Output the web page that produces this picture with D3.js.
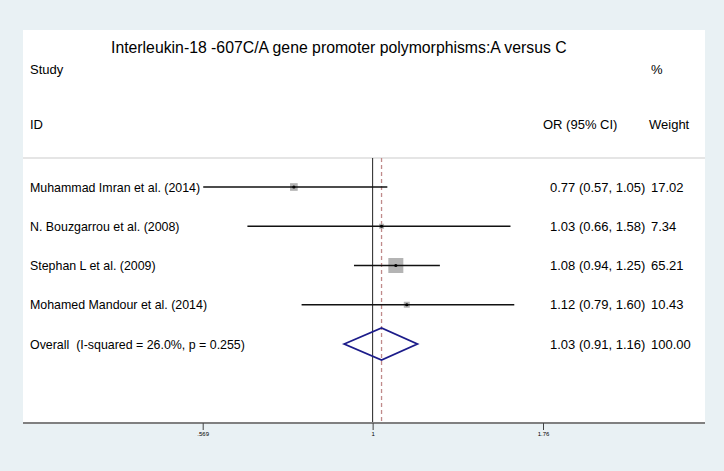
<!DOCTYPE html>
<html>
<head>
<meta charset="utf-8">
<script src="https://cdn.jsdelivr.net/npm/d3@7"></script>
<style>
  body { margin: 0; background: #e9f1f4; }
  svg { display: block; }
  text { font-family: "Liberation Sans", Arial, sans-serif; fill: #000; white-space: pre; }
</style>
</head>
<body>
<div id="chart"></div>
<script>
// study rows
const studies = [
  'Muhammad Imran et al. (2014)',
  'N. Bouzgarrou et al. (2008)',
  'Stephan L et al. (2009)',
  'Mohamed Mandour et al. (2014)'
];
const orValues = [0.77, 1.03, 1.08, 1.12];
const ciLower = [0.57, 0.66, 0.94, 0.79];
const ciUpper = [1.05, 1.58, 1.25, 1.60];
const weights = [17.02, 7.34, 65.21, 10.43];

// pooled estimate
const overallLabel = 'Overall  (I-squared = 26.0%, p = 0.255)';
const overallOR = [1.03, 0.91, 1.16]; // estimate, lower, upper
const overallWeight = 100.00;

const tickValues = [0.569, 1, 1.76];
const tickLabels = ['.569', '1', '1.76'];

const title = 'Interleukin-18 -607C/A gene promoter polymorphisms:A versus C';

const W = 724, H = 471;
const panel = { left: 23, right: 705, top: 30, bottom: 423 };

const svg = d3.select('#chart').append('svg')
  .attr('width', W)
  .attr('height', H);

// white plot panel
svg.append('rect')
  .attr('x', panel.left)
  .attr('y', panel.top)
  .attr('width', panel.right - panel.left)
  .attr('height', panel.bottom - panel.top)
  .attr('fill', '#fff');

// scales
const x = d3.scaleLog()
  .domain([0.569, 1.76])
  .range([202.7, 543]);

const rows = d3.range(studies.length + 1);
const y = d3.scalePoint()
  .domain(rows)
  .range([187, 344]);

const boxSize = d3.scaleSqrt()
  .domain([0, d3.max(weights)])
  .range([0, 15]);

const f2 = d3.format('.2f');

// header texts
svg.append('text')
  .attr('x', 111).attr('y', 53)
  .style('font-size', '15.8px')
  .text(title);

const headers = [
  ['Study', 30, 74], ['%', 651, 74],
  ['ID', 30, 129], ['OR (95% CI)', 543, 129], ['Weight', 649, 129]
];
svg.selectAll('.hdr')
  .data(headers)
  .join('text')
  .attr('class', 'hdr')
  .attr('x', d => d[1])
  .attr('y', d => d[2])
  .style('font-size', '13px')
  .text(d => d[0]);

// separator under header
svg.append('line')
  .attr('x1', panel.left).attr('x2', panel.right)
  .attr('y1', 158).attr('y2', 158)
  .attr('stroke', '#dcdcdc')
  .attr('stroke-width', 1.5);

// null line and overall line
svg.append('line')
  .attr('x1', x(1)).attr('x2', x(1))
  .attr('y1', 158).attr('y2', panel.bottom)
  .attr('stroke', '#222')
  .attr('stroke-width', 1);

svg.append('line')
  .attr('x1', x(overallOR[0])).attr('x2', x(overallOR[0]))
  .attr('y1', 158).attr('y2', panel.bottom)
  .attr('stroke', '#c08a8a')
  .attr('stroke-width', 1.3)
  .attr('stroke-dasharray', '4,3');

// study rows
const studyData = studies.map((s, i) => ({
  label: s, or: orValues[i], lo: ciLower[i], hi: ciUpper[i], w: weights[i], row: i
}));

const g = svg.append('g');

g.selectAll('.box')
  .data(studyData)
  .join('rect')
  .attr('class', 'box')
  .attr('x', d => x(d.or) - boxSize(d.w) / 2)
  .attr('y', d => y(d.row) - boxSize(d.w) / 2)
  .attr('width', d => boxSize(d.w))
  .attr('height', d => boxSize(d.w))
  .attr('fill', '#b4b4b4');

g.selectAll('.ci')
  .data(studyData)
  .join('line')
  .attr('class', 'ci')
  .attr('x1', d => x(d.lo)).attr('x2', d => x(d.hi))
  .attr('y1', d => y(d.row)).attr('y2', d => y(d.row))
  .attr('stroke', '#111')
  .attr('stroke-width', 1.5);

g.selectAll('.pt')
  .data(studyData)
  .join('circle')
  .attr('class', 'pt')
  .attr('cx', d => x(d.or))
  .attr('cy', d => y(d.row))
  .attr('r', 1.6)
  .attr('fill', '#000');

// labels and estimates
const allRows = studyData.map(d => ({
  label: d.label,
  est: `${f2(d.or)} (${f2(d.lo)}, ${f2(d.hi)})`,
  w: f2(d.w),
  row: d.row
})).concat([{
  label: overallLabel,
  est: `${f2(overallOR[0])} (${f2(overallOR[1])}, ${f2(overallOR[2])})`,
  w: f2(overallWeight),
  row: studies.length
}]);

g.selectAll('.lbl')
  .data(allRows)
  .join('text')
  .attr('class', 'lbl')
  .attr('x', 30)
  .attr('y', d => y(d.row) + 4.6)
  .style('font-size', '12.4px')
  .text(d => d.label);

g.selectAll('.est')
  .data(allRows)
  .join('text')
  .attr('class', 'est')
  .attr('x', 550)
  .attr('y', d => y(d.row) + 4.6)
  .style('font-size', '13px')
  .text(d => d.est);

g.selectAll('.wt')
  .data(allRows)
  .join('text')
  .attr('class', 'wt')
  .attr('x', 651)
  .attr('y', d => y(d.row) + 4.6)
  .style('font-size', '13px')
  .text(d => d.w);

// overall diamond
const oy = y(studies.length);
const diamond = [
  [x(overallOR[1]), oy],
  [x(overallOR[0]), oy - 16],
  [x(overallOR[2]), oy],
  [x(overallOR[0]), oy + 16]
];
svg.append('polygon')
  .attr('points', diamond.map(p => p.join(',')).join(' '))
  .attr('fill', 'none')
  .attr('stroke', '#1c1c8a')
  .attr('stroke-width', 1.8);

// x axis
const axisG = svg.append('g')
  .attr('transform', `translate(0,${panel.bottom})`);

axisG.append('line')
  .attr('x1', panel.left).attr('x2', panel.right)
  .attr('y1', 0).attr('y2', 0)
  .attr('stroke', '#808080')
  .attr('stroke-width', 2);

const xAxis = d3.axisBottom(x)
  .tickValues(tickValues)
  .tickFormat((d, i) => tickLabels[i])
  .tickSize(7)
  .tickPadding(2);

axisG.call(xAxis);
axisG.select('.domain').remove();
axisG.selectAll('.tick line').attr('stroke', '#444');
axisG.selectAll('.tick text')
  .style('font-family', '"Liberation Sans", Arial, sans-serif')
  .style('font-size', '6px')
  .attr('fill', '#333');
</script>
</body>
</html>
